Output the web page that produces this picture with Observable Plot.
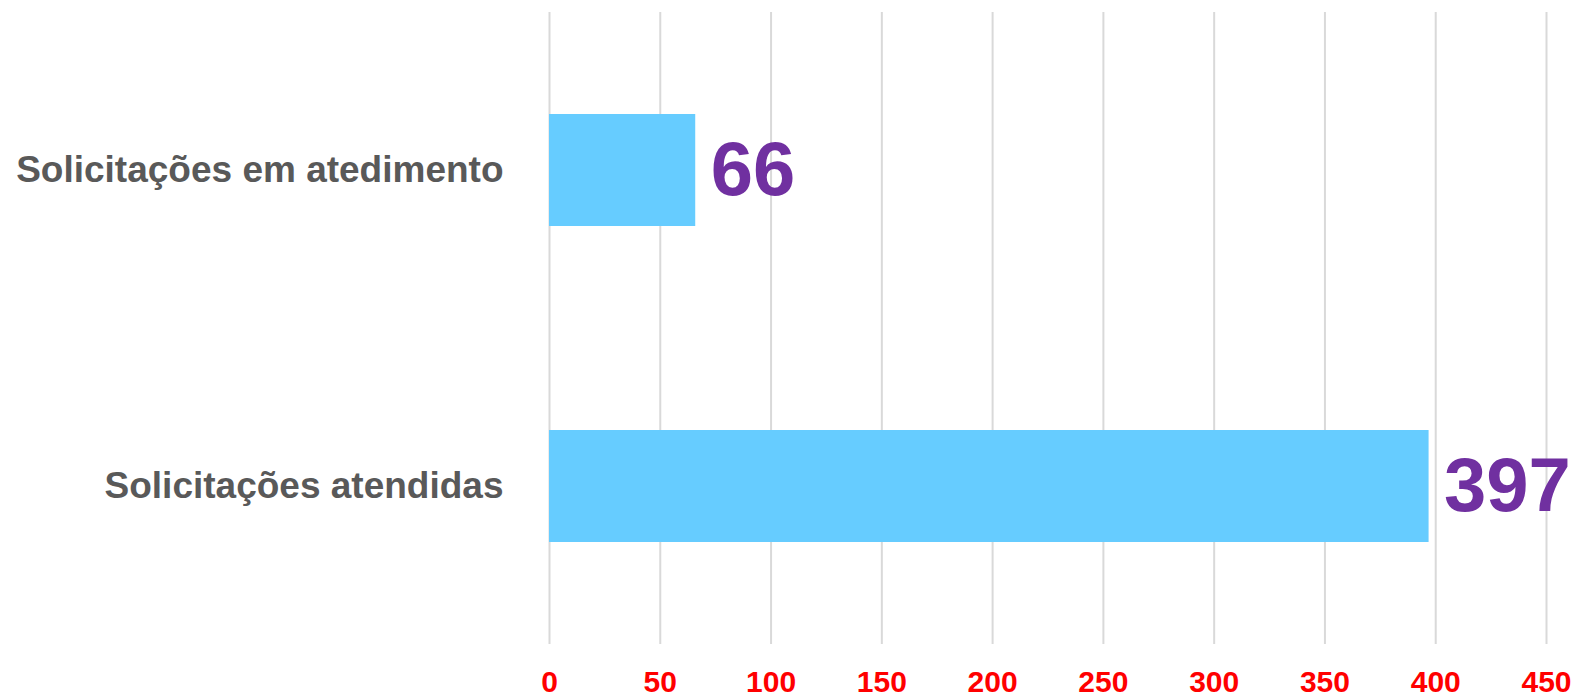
<!DOCTYPE html>
<html>
<head>
<meta charset="utf-8">
<script src="https://cdn.jsdelivr.net/npm/d3@7"></script>
<script src="https://cdn.jsdelivr.net/npm/@observablehq/plot@0.6"></script>
<style>
  html, body { margin: 0; padding: 0; background: #fff; }
  #chart svg { display: block; }
</style>
</head>
<body>
<div id="chart"></div>
<script>
const categories = ["Solicitações em atedimento", "Solicitações atendidas"];
const values = [66, 397];
const xTicks = [0, 50, 100, 150, 200, 250, 300, 350, 400, 450];

const data = categories.map((c, i) => ({category: c, value: values[i]}));

const chart = Plot.plot({
  width: 1579,
  height: 697,
  marginTop: 12,
  marginBottom: 53,
  marginLeft: 549,
  marginRight: 33,
  style: {fontFamily: "'Liberation Sans', Arial, sans-serif", background: "#fff"},
  x: {domain: [0, 450], ticks: xTicks},
  y: {domain: categories, paddingInner: 0.646, paddingOuter: 0.323},
  marks: [
    Plot.gridX(xTicks, {stroke: "#d9d9d9", strokeOpacity: 1, strokeWidth: 2}),
    Plot.barX(data, {x: "value", y: "category", fill: "#66CCFF"}),
    Plot.text(data, {x: "value", y: "category", text: d => String(d.value), textAnchor: "start", dx: 15, fontSize: 76, fontWeight: "bold", fill: "#7030A0"}),
    Plot.axisX({ticks: xTicks, tickSize: 0, tickPadding: 26, fontSize: 30, fontWeight: "bold", fill: "#FF0000", label: null}),
    Plot.axisY({tickSize: 0, tickPadding: 46, fontSize: 37, fontWeight: "bold", fill: "#595959", label: null})
  ]
});
document.getElementById("chart").appendChild(chart);
</script>
</body>
</html>
